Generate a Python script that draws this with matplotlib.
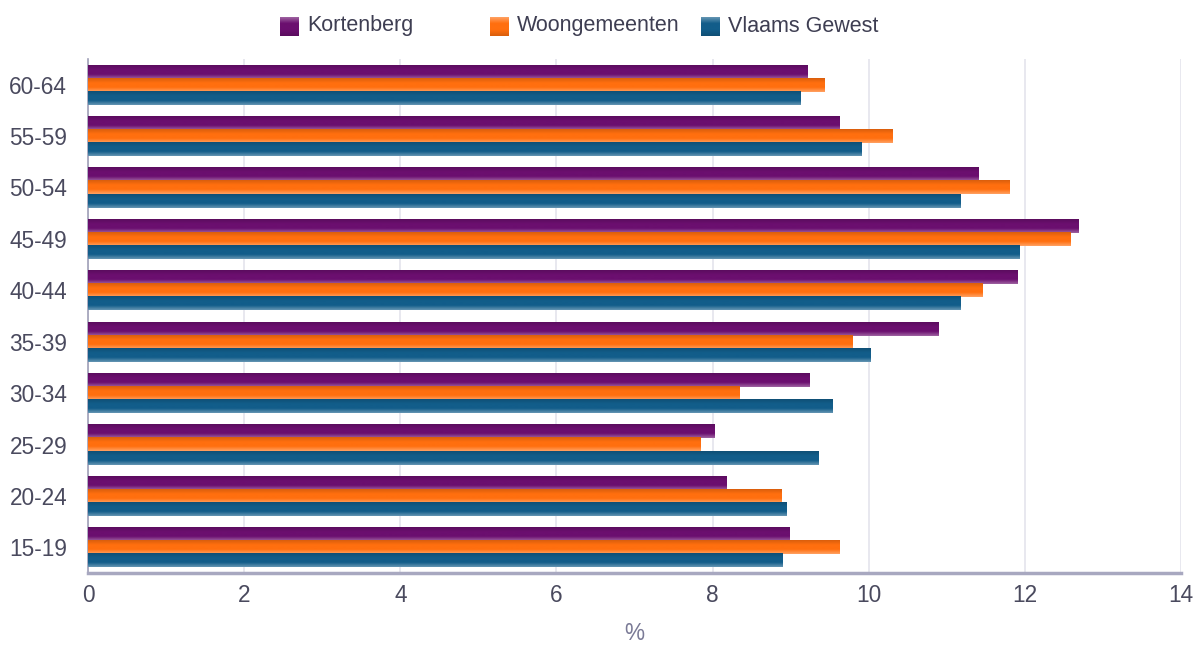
import numpy as np
import matplotlib
matplotlib.use("Agg")
import matplotlib.pyplot as plt
from matplotlib.colors import LinearSegmentedColormap, to_rgb

plt.rcParams['font.family'] = ['Liberation Sans', 'DejaVu Sans']

categories = ["15-19", "20-24", "25-29", "30-34", "35-39", "40-44", "45-49", "50-54", "55-59", "60-64"]
kortenberg = [8.98, 8.18, 8.02, 9.24, 10.89, 11.90, 12.69, 11.41, 9.62, 9.21]
woongemeenten = [9.62, 8.88, 7.84, 8.34, 9.79, 11.46, 12.59, 11.80, 10.30, 9.44]
vlaams = [8.90, 8.95, 9.36, 9.54, 10.02, 11.17, 11.93, 11.17, 9.91, 9.13]
series_names = ["Kortenberg", "Woongemeenten", "Vlaams Gewest"]
series_values = [kortenberg, woongemeenten, vlaams]
colors = ["#6b0f6f", "#ff6f0f", "#125d8a"]
xticks = [0, 2, 4, 6, 8, 10, 12, 14]

fig = plt.figure(figsize=(11.94, 6.46), dpi=100)
ax = fig.add_axes([88/1194, 1-573/646, (1181-88)/1194, (573-59)/646])

y = np.arange(len(categories))
h = 0.27
offsets = [0.255, 0.0, -0.255]


def lighten(c, f):
    r = np.array(to_rgb(c))
    return tuple(r + (1 - r) * f)


def grad_cmap(col):
    return LinearSegmentedColormap.from_list(
        "g", [lighten(col, 0.35), col, col, tuple(np.array(to_rgb(col)) * 0.85)])


grad = np.linspace(0, 1, 64).reshape(-1, 1)
for vals, col, off in zip(series_values, colors, offsets):
    bars = ax.barh(y + off, vals, height=h, color=col, zorder=2)
    cmap = grad_cmap(col)
    for b in bars:
        x0, y0 = b.get_x(), b.get_y()
        w, hh = b.get_width(), b.get_height()
        ax.imshow(grad, cmap=cmap, aspect='auto', extent=(x0, x0 + w, y0 + hh, y0),
                  origin='upper', zorder=3, interpolation='bilinear')
        b.set_visible(False)

ax.set_xlim(0, 14)
ax.set_ylim(-0.5, len(categories) - 0.5)
ax.set_xticks(xticks)
ax.set_xticklabels([str(t) for t in xticks])
ax.set_yticks(y)
ax.set_yticklabels(categories)
ax.tick_params(axis='both', length=0, labelsize=16.3, colors="#4a4a5e")
ax.tick_params(axis='x', pad=8)
ax.tick_params(axis='y', pad=15)
ax.grid(axis='x', color="#e4e4ec", linewidth=1.2, zorder=0)
ax.set_axisbelow(True)
for s in ["top", "right"]:
    ax.spines[s].set_visible(False)
ax.spines["left"].set_color("#a0a0b8")
ax.spines["left"].set_linewidth(1.2)
ax.spines["bottom"].set_color("#a8a8c0")
ax.spines["bottom"].set_linewidth(2.5)
ax.set_xlabel("%", fontsize=16.3, color="#7a7a96", labelpad=11)

# legend
leg_x = [280, 490, 701]
for name, col, lx in zip(series_names, colors, leg_x):
    lax = fig.add_axes([lx/1194, 1-36/646, 19/1194, 19/646])
    lax.imshow(grad, cmap=grad_cmap(col), aspect='auto', extent=(0, 1, 1, 0),
               interpolation='bilinear')
    lax.set_axis_off()
    fig.text((lx + 27)/1194, 1-26/646, name, fontsize=15.5, color="#3e3e52",
             va='center', ha='left')

fig.savefig("out.png", dpi=100)
